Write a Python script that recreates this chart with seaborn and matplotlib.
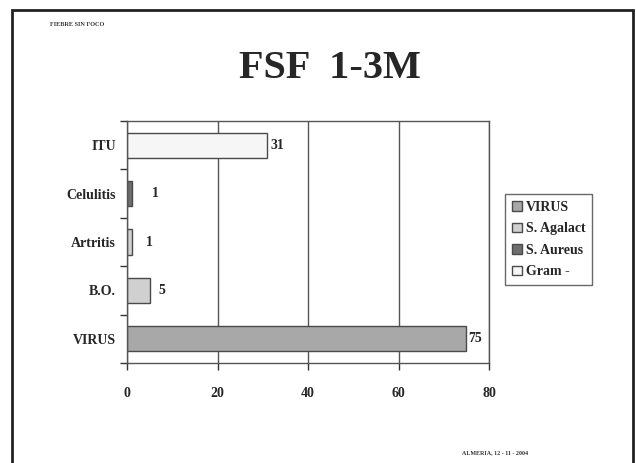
import pandas as pd
import seaborn as sns
import matplotlib.pyplot as plt
from matplotlib.patches import Rectangle

# data
categories = ['ITU', 'Celulitis', 'Artritis', 'B.O.', 'VIRUS']
counts = [31, 1, 1, 5, 75]
organisms = ['Gram -', 'S. Aureus', 'S. Agalact', 'S. Agalact', 'VIRUS']
legend_order = ['VIRUS', 'S. Agalact', 'S. Aureus', 'Gram -']
x_ticks = [0, 20, 40, 60, 80]

df = pd.DataFrame({'cat': categories, 'n': counts, 'org': organisms})

sns.set_style("white")
plt.rcParams['font.family'] = ['Liberation Serif', 'DejaVu Serif']
plt.rcParams['font.weight'] = 'bold'

colors = {'VIRUS': '#a8a8a8', 'S. Agalact': '#d0d0d0',
          'S. Aureus': '#6e6e6e', 'Gram -': '#f6f6f6'}

fig = plt.figure(figsize=(6.36, 4.63), dpi=100)
W, H = 636, 463
ax = fig.add_axes([127 / W, 1 - 363 / H, (489 - 127) / W, (363 - 121) / H])

sns.barplot(data=df, y='cat', x='n', hue='org', hue_order=legend_order,
            order=categories, palette=colors, dodge=False, width=0.52,
            edgecolor='#4a4a4a', linewidth=1.0, ax=ax)

ax.set_xlim(0, 80)
ax.set_ylim(4.5, -0.5)
ax.set_xticks(x_ticks)
ax.set_xticklabels([str(t) for t in x_ticks], fontsize=10, fontweight='bold')
ax.set_yticks(range(len(categories)))
ax.set_yticklabels(categories, fontsize=10, fontweight='bold')
ax.set_yticks([i - 0.5 for i in range(len(categories) + 1)], minor=True)
ax.tick_params(axis='y', which='major', length=0, pad=8)
ax.tick_params(axis='y', which='minor', length=5, width=1, color='#333333', left=True)
ax.tick_params(axis='x', length=5, width=1, color='#333333', bottom=True, pad=12)
ax.set_xlabel('')
ax.set_ylabel('')
ax.grid(axis='x', color='#555555', linewidth=1)
ax.set_axisbelow(True)
for s in ax.spines.values():
    s.set_color('#555555')
    s.set_linewidth(1)

# value labels
offsets = [0.8, 4.5, 3.2, 2.0, 0.5]
for i, v in enumerate(counts):
    ax.text(v + offsets[i], i, str(v), va='center', ha='left', fontsize=10, fontweight='bold')

leg = ax.legend(loc='center left', bbox_to_anchor=(1.044, 0.51), frameon=True,
                fontsize=10, handlelength=0.7, handleheight=0.7, handletextpad=0.3,
                borderpad=0.5, labelspacing=0.62, fancybox=False, borderaxespad=0)
leg.get_frame().set_edgecolor('#444444')
leg.get_frame().set_linewidth(1)
for t in leg.get_texts():
    t.set_fontweight('bold')

fig.text(330 / W, 1 - 68 / H, 'FSF  1-3M', ha='center', va='center',
         fontsize=29, fontweight='bold')
fig.text(50 / W, 1 - 25 / H, 'FIEBRE SIN FOCO', ha='left', va='center',
         fontsize=4.5, fontweight='bold', color='#333333')
fig.text(462 / W, 1 - 453 / H, 'ALMERIA, 12 - 11 - 2004', ha='left', va='center',
         fontsize=4.3, fontweight='bold', color='#333333')

# slide frame
fig.patches.append(Rectangle((12 / W, -0.05), (633 - 12) / W, 1.05 - 10 / H,
                             transform=fig.transFigure, fill=False,
                             edgecolor='#222222', linewidth=2))

plt.savefig('out.png', dpi=100)
